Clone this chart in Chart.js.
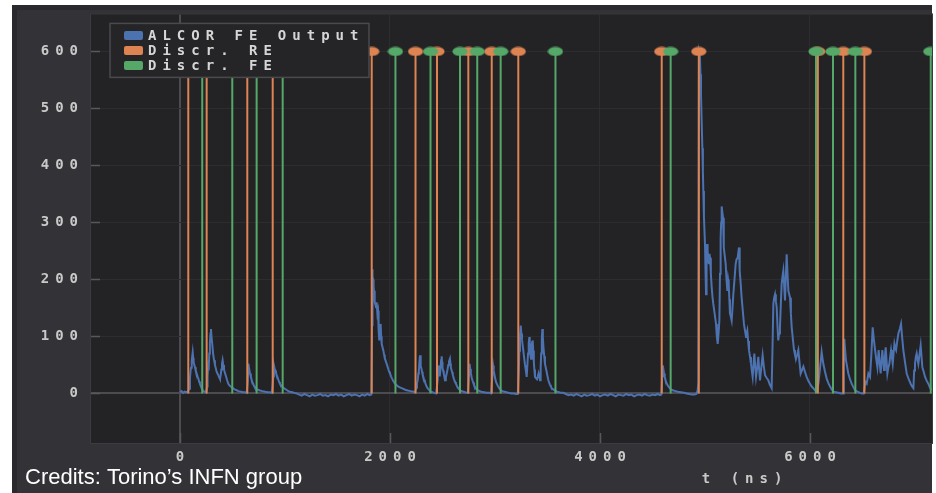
<!DOCTYPE html>
<html>
<head>
<meta charset="utf-8">
<script src="https://cdn.jsdelivr.net/npm/chart.js@4/dist/chart.umd.min.js"></script>
<style>
  html, body { margin: 0; padding: 0; background: #ffffff; }
  #wrap { position: relative; width: 936px; height: 493px; }
  canvas { display: block; }
</style>
</head>
<body>
<div id="wrap"><canvas id="c" width="936" height="493"></canvas></div>
<script>
// ---- series labels and axis text ----
const seriesNames = ['ALCOR FE Output', 'Discr. RE', 'Discr. FE'];
const xTitle = 't (ns)';
const creditText = 'Credits: Torino\u2019s INFN group';

// ---- tick values ----
const xTicks = [0, 2000, 4000, 6000];
const yTicks = [0, 100, 200, 300, 400, 500, 600];

// discriminator level at which the edge markers are drawn
const STEM_LEVEL = 600;

// rising / falling edge times (ns)
const reTimes = [79, 254, 641, 883, 1826, 2243, 2448, 2746, 2969, 3222, 4588, 4941, 6075, 6317, 6518];
const feTimes = [212, 498, 730, 978, 2052, 2386, 2667, 2831, 3054, 3576, 4673, 6057, 6219, 6432, 7150];

// front-end output waveform: time (ns) and amplitude
const waveT = [
  0, 15, 30, 45, 60, 75,
  88, 95, 101, 105, 112, 121, 126, 130, 136, 143, 150, 159, 167, 175, 182, 190, 198, 206, 214, 222, 235, 248,
  258, 263, 268, 273, 279, 285, 290, 295, 300, 308, 317, 325, 333, 341, 349, 357, 365, 373, 381, 388, 394, 400, 406, 412, 419, 428, 438, 449, 460, 471, 483, 495, 508, 520, 535, 556, 580, 603, 620, 635,
  645, 651, 658, 667, 675, 683, 690, 698, 706, 714, 725, 736, 750, 762, 785, 810, 835, 857, 875,
  889, 895, 901, 908, 914, 921, 929, 937, 945, 952, 968, 984, 1000, 1016, 1032, 1048, 1070, 1090, 1111,
  1135, 1160, 1185, 1210, 1235, 1260, 1285, 1310, 1335, 1360, 1385, 1410, 1435, 1460, 1485, 1510, 1535, 1560, 1585, 1610, 1635, 1660, 1685, 1710, 1735, 1760, 1785, 1805, 1822,
  1829, 1832, 1836, 1840, 1844, 1848, 1852, 1857, 1862, 1867, 1873, 1880, 1886, 1892, 1898, 1905, 1911, 1916, 1921, 1930, 1937, 1944, 1950, 1959, 1968, 1977, 1985, 1993, 2000, 2010, 2020, 2034, 2048, 2064, 2080, 2100, 2127, 2150, 2170, 2195, 2222, 2238,
  2250, 2257, 2264, 2270, 2275, 2280, 2286, 2290, 2295, 2300, 2305, 2311, 2317, 2325, 2333, 2341, 2349, 2358, 2368, 2378, 2387, 2405, 2420, 2440,
  2455, 2460, 2464, 2468, 2472, 2476, 2482, 2487, 2492, 2496, 2500, 2506, 2512, 2518, 2524, 2532, 2540, 2548, 2555, 2562, 2571, 2576, 2580, 2586, 2592, 2598, 2603, 2611, 2620, 2628, 2635, 2643, 2650, 2660, 2667, 2685, 2700, 2715, 2730, 2742,
  2752, 2758, 2764, 2770, 2778, 2785, 2793, 2800, 2808, 2815, 2828, 2840, 2855, 2870, 2895, 2920, 2945, 2963,
  2975, 2982, 2988, 2995, 3002, 3010, 3020, 3030, 3042, 3054, 3070, 3090, 3110, 3130, 3155, 3180, 3200, 3217,
  3227, 3232, 3238, 3245, 3251, 3257, 3263, 3270, 3278, 3286, 3294, 3302, 3308, 3315, 3321, 3327, 3331, 3335, 3339, 3343, 3347, 3351, 3355, 3359, 3364, 3370, 3375, 3381, 3390, 3400, 3408, 3415, 3422, 3429, 3435, 3440, 3446, 3451, 3456, 3462, 3469, 3476, 3484, 3492, 3500, 3508, 3516, 3524, 3532, 3540, 3555, 3571, 3590, 3610, 3630, 3651,
  3675, 3700, 3725, 3750, 3775, 3800, 3825, 3850, 3875, 3900, 3925, 3950, 3975, 4000, 4025, 4050, 4075, 4100, 4125, 4150, 4175, 4200, 4225, 4250, 4275, 4300, 4325, 4350, 4375, 4400, 4425, 4450, 4475, 4500, 4525, 4550, 4570, 4584,
  4592, 4598, 4604, 4610, 4617, 4625, 4635, 4645, 4657, 4670, 4685, 4700, 4720, 4740, 4770, 4800, 4825, 4850, 4875, 4900, 4918, 4930, 4937,
  4943, 4952, 4957, 4962, 4968, 4975, 4980, 4984, 4990, 5000, 5005, 5010, 5015, 5020, 5025, 5031, 5038, 5043, 5048, 5056, 5064, 5071, 5079, 5092, 5105, 5113, 5121, 5129, 5137, 5143, 5149, 5154, 5159, 5165, 5172, 5177, 5181, 5189, 5197, 5205, 5213, 5220, 5226, 5232, 5238, 5246, 5254, 5262, 5270, 5281, 5292, 5300, 5311, 5318, 5324, 5328, 5333, 5341, 5349, 5360, 5371, 5381, 5391, 5397, 5403, 5411, 5419, 5429, 5438, 5446, 5454, 5462, 5470, 5478, 5486, 5497, 5508, 5516, 5524, 5536, 5549, 5560, 5572, 5588, 5603, 5618, 5635, 5643, 5651, 5659, 5667, 5675, 5683, 5690, 5698, 5706, 5714, 5722, 5730, 5738, 5746, 5754, 5762, 5770, 5778, 5786, 5794, 5802, 5810, 5818, 5826, 5837, 5848, 5857, 5867, 5878, 5889, 5900, 5911, 5924, 5937, 5952, 5968, 5984, 6000, 6016, 6032, 6045, 6057, 6068, 6080, 6096, 6111, 6119, 6127, 6143, 6159, 6175, 6191, 6207, 6222, 6246, 6270, 6294, 6316,
  6322, 6327, 6335, 6343, 6354, 6365, 6381, 6397, 6413, 6429, 6452, 6476, 6495, 6512,
  6527, 6540, 6556, 6572, 6585, 6597, 6608, 6620, 6631, 6642, 6654, 6663, 6673, 6689, 6697, 6705, 6713, 6721, 6729, 6737, 6746, 6756, 6764, 6772, 6780, 6788, 6796, 6804, 6812, 6820, 6831, 6842, 6855, 6867, 6878, 6889, 6905, 6921, 6940, 6959, 6972, 6985, 6992, 7000, 7008, 7016, 7024, 7032, 7043, 7054, 7062, 7070, 7083, 7096, 7112, 7127, 7143, 7159
];
const waveV = [
  2, 4, 1, 3, 2, 3,
  8, 27, 40, 45, 58, 72, 62, 55, 50, 46, 40, 35, 30, 26, 21, 17, 13, 10, 7, 4, 3, 2,
  12, 30, 45, 40, 70, 88, 105, 113, 100, 85, 67, 58, 50, 44, 38, 35, 32, 28, 25, 32, 42, 52, 58, 50, 42, 36, 30, 23, 17, 14, 12, 10, 9, 7, 6, 4, 3, 2, 2, 1,
  20, 52, 44, 35, 29, 24, 20, 16, 13, 10, 8, 7, 6, 5, 4, 3, 2, 2, 1,
  30, 49, 44, 40, 36, 32, 28, 24, 20, 17, 13, 10, 8, 6, 4, 3, 2, 1, 0,
  -2, -4, -1, -3, -5, -2, -4, -3, -1, -4, -3, -5, -2, -3, -1, -4, -2, -5, -3, -1, -4, -2, -3, -5, -2, -4, -1, -3, -2,
  120, 218, 205, 200, 188, 180, 170, 160, 155, 151, 160, 140, 145, 110, 93, 115, 122, 100, 87, 80, 75, 68, 62, 57, 52, 47, 42, 38, 35, 30, 26, 21, 17, 14, 12, 10, 8, 6, 5, 4, 3, 2,
  10, 18, 23, 35, 40, 55, 67, 58, 48, 43, 38, 33, 29, 24, 20, 16, 12, 9, 7, 5, 3, 2, 1, 0,
  25, 49, 43, 38, 34, 30, 45, 58, 65, 55, 45, 40, 35, 29, 23, 28, 35, 42, 50, 56, 61, 52, 45, 41, 37, 33, 29, 24, 20, 17, 14, 11, 9, 7, 5, 4, 3, 2, 1, 1,
  30, 52, 43, 35, 28, 23, 19, 15, 12, 9, 7, 5, 4, 3, 2, 1, 1, 0,
  30, 49, 41, 33, 26, 20, 16, 12, 9, 6, 4, 3, 2, 1, 0, 0, -1, -1,
  40, 75, 100, 119, 105, 95, 85, 75, 62, 50, 40, 29, 48, 70, 88, 99, 85, 70, 65, 61, 75, 85, 90, 93, 75, 55, 42, 29, 27, 25, 30, 35, 29, 23, 45, 70, 95, 113, 98, 80, 65, 52, 45, 38, 30, 23, 19, 15, 12, 9, 7, 5, 3, 2, 1, 1,
  -1, -3, -2, -4, -1, -3, -5, -2, -4, -3, -1, -4, -2, -5, -3, -2, -4, -1, -3, -5, -2, -3, -4, -1, -3, -2, -5, -3, -2, -4, -1, -3, -4, -2, -3, -1, -3, -2,
  30, 49, 42, 35, 29, 23, 18, 14, 11, 8, 6, 5, 4, 3, 2, 1, 0, -1, -2, -2, -1, 5, 20,
  598, 590, 560, 523, 480, 430, 390, 355, 310, 262, 215, 174, 225, 262, 250, 235, 227, 245, 238, 210, 186, 170, 157, 140, 122, 100, 87, 105, 128, 210, 273, 300, 328, 318, 308, 280, 256, 240, 227, 200, 180, 200, 192, 165, 140, 135, 128, 150, 174, 200, 227, 235, 238, 248, 256, 235, 215, 190, 168, 145, 122, 110, 99, 105, 110, 92, 76, 64, 52, 40, 29, 50, 70, 48, 29, 45, 64, 42, 23, 45, 67, 48, 32, 27, 23, 15, 9, 80, 157, 168, 174, 162, 151, 120, 93, 105, 116, 155, 192, 205, 215, 190, 163, 205, 244, 210, 180, 174, 168, 140, 116, 95, 76, 68, 61, 68, 76, 55, 35, 41, 47, 38, 29, 22, 17, 12, 9, 6, 3, 8, 17, 45, 73, 62, 52, 38, 26, 18, 12, 7, 3, 2, 1, 0, 0,
  50, 96, 75, 58, 46, 35, 25, 17, 11, 6, 3, 1, 0, 0,
  20, 17, 35, 29, 70, 116, 95, 76, 60, 46, 76, 55, 35, 76, 58, 41, 62, 81, 58, 35, 45, 52, 65, 76, 64, 52, 70, 87, 80, 76, 92, 105, 113, 122, 98, 76, 55, 35, 25, 17, 12, 9, 40, 52, 64, 70, 60, 52, 68, 84, 65, 46, 38, 29, 22, 17, 10, 6
];

// seaborn-style palette
const COLORS = ['#4c72b0', '#dd8452', '#55a868'];
const TEXT_SPACING = '6px';
const MONO = '"DejaVu Sans Mono", monospace';
const TEXT_SIZE = 14;

// vertical stems from 0 up to the discriminator level, separated by gaps
function stemPoints(times) {
  const pts = [];
  times.forEach(t => {
    pts.push({ x: t, y: 0 }, { x: t, y: STEM_LEVEL }, { x: t, y: null });
  });
  return pts;
}

// flattened round marker sitting on top of each stem
function ellipseMarker(color) {
  const c = document.createElement('canvas');
  c.width = 16; c.height = 10;
  const g = c.getContext('2d');
  g.fillStyle = color;
  g.beginPath();
  g.ellipse(8, 5, 7.6, 4.6, 0, 0, Math.PI * 2);
  g.fill();
  return c;
}

const stemDataset = (label, times, color, order) => ({
  label,
  data: stemPoints(times),
  borderColor: color,
  backgroundColor: color,
  borderWidth: 2,
  spanGaps: false,
  order,
  pointStyle: ellipseMarker(color),
  pointRadius: c => (c.raw && c.raw.y === STEM_LEVEL) ? 6 : 0,
  pointHoverRadius: 0
});

// wide monospaced look for all chart text
const spacingPlugin = {
  id: 'spacing',
  beforeUpdate(chart) { chart.ctx.letterSpacing = TEXT_SPACING; },
  beforeLayout(chart) { chart.ctx.letterSpacing = TEXT_SPACING; },
  beforeDraw(chart) { chart.ctx.letterSpacing = TEXT_SPACING; }
};

// page frame, panel and plot background
const framePlugin = {
  id: 'frame',
  beforeDraw(chart) {
    const { ctx, chartArea: a } = chart;
    ctx.save();
    ctx.fillStyle = '#ffffff';
    ctx.fillRect(0, 0, chart.width, chart.height);
    ctx.fillStyle = '#2a2a2e';
    ctx.fillRect(12, 5, a.right - 12, chart.height - 5);
    ctx.fillStyle = '#333337';
    ctx.fillRect(17, 10, a.right - 17, chart.height - 10);
    ctx.fillStyle = '#232326';
    ctx.fillRect(a.left, a.top - 1, a.right - a.left, a.bottom - a.top + 1);
    ctx.restore();
  },
  beforeDatasetsDraw(chart) {
    // short tick marks pointing into the plot
    const { ctx, chartArea: a, scales } = chart;
    ctx.save();
    ctx.strokeStyle = '#58585c';
    ctx.lineWidth = 1.5;
    ctx.beginPath();
    scales.y.ticks.forEach(t => {
      const y = Math.round(scales.y.getPixelForValue(t.value)) + 0.5;
      ctx.moveTo(a.left, y); ctx.lineTo(a.left + 10, y);
    });
    scales.x.ticks.forEach(t => {
      const x = Math.round(scales.x.getPixelForValue(t.value)) + 0.5;
      ctx.moveTo(x, a.bottom); ctx.lineTo(x, a.bottom - 10);
    });
    ctx.stroke();
    ctx.strokeStyle = '#3c3c40';
    ctx.lineWidth = 1;
    ctx.strokeRect(a.left + 0.5, a.top - 0.5, a.right - a.left, a.bottom - a.top + 1);
    ctx.restore();
  }
};

// boxed legend inside the plot, x-axis title and credit line
const overlayPlugin = {
  id: 'overlay',
  afterDraw(chart) {
    const { ctx, chartArea: a } = chart;
    ctx.save();
    ctx.letterSpacing = TEXT_SPACING;
    const bx = a.left + 20, by = a.top + 9, bw = 259, bh = 54;
    ctx.fillStyle = '#252528';
    ctx.fillRect(bx, by, bw, bh);
    ctx.strokeStyle = '#4a4a4e';
    ctx.lineWidth = 1.5;
    ctx.strokeRect(bx, by, bw, bh);
    ctx.font = 'bold ' + TEXT_SIZE + 'px ' + MONO;
    ctx.textBaseline = 'middle';
    ctx.textAlign = 'left';
    chart.data.datasets.forEach((ds, i) => {
      const cy = by + 12 + i * 15;
      ctx.fillStyle = ds.borderColor;
      ctx.beginPath();
      ctx.roundRect(bx + 14, cy - 4.5, 19, 9, 2);
      ctx.fill();
      ctx.fillStyle = '#d6d6d6';
      ctx.fillText(ds.label, bx + 38, cy + 1);
    });

    ctx.fillStyle = '#c9c9c9';
    ctx.textAlign = 'center';
    ctx.fillText(xTitle, a.left + (a.right - a.left) * 0.778, 479);

    ctx.letterSpacing = '0px';
    ctx.font = '22px "Liberation Sans", Arial, sans-serif';
    ctx.textAlign = 'left';
    ctx.textBaseline = 'alphabetic';
    ctx.fillStyle = '#ffffff';
    ctx.fillText(creditText, 25, 484);
    ctx.restore();
  }
};

Chart.defaults.font.family = MONO;
Chart.defaults.font.size = TEXT_SIZE;
Chart.defaults.font.weight = 'bold';
Chart.defaults.color = '#c9c9c9';

const gridColor = c => (c.tick && c.tick.value === 0) ? '#4c4c50' : '#2d2d31';
const gridWidth = c => (c.tick && c.tick.value === 0) ? 2 : 1;
const plainLabel = v => String(v);

new Chart(document.getElementById('c'), {
  type: 'line',
  data: {
    datasets: [
      {
        label: seriesNames[0],
        data: waveT.map((t, i) => ({ x: t, y: waveV[i] })),
        borderColor: COLORS[0],
        backgroundColor: COLORS[0],
        borderWidth: 2,
        pointRadius: 0,
        order: 3
      },
      stemDataset(seriesNames[1], reTimes, COLORS[1], 2),
      stemDataset(seriesNames[2], feTimes, COLORS[2], 1)
    ]
  },
  options: {
    responsive: false,
    animation: false,
    events: [],
    layout: { padding: { left: 12, top: 12, right: 4, bottom: 0 } },
    plugins: {
      legend: { display: false },
      tooltip: { enabled: false }
    },
    scales: {
      x: {
        type: 'linear',
        min: -857,
        max: 7162,
        afterBuildTicks: s => { s.ticks = xTicks.map(v => ({ value: v })); },
        afterFit: s => { s.height = 50; },
        ticks: { padding: 6, labelOffset: 3, maxRotation: 0, includeBounds: false, callback: plainLabel },
        grid: { color: gridColor, lineWidth: gridWidth, drawTicks: false },
        border: { display: false }
      },
      y: {
        type: 'linear',
        min: -87,
        max: 665,
        afterBuildTicks: s => { s.ticks = yTicks.map(v => ({ value: v })); },
        afterFit: s => { s.width = 78; },
        ticks: { padding: 6, includeBounds: false, callback: plainLabel },
        grid: { color: gridColor, lineWidth: gridWidth, drawTicks: false },
        border: { display: false }
      }
    }
  },
  plugins: [spacingPlugin, framePlugin, overlayPlugin]
});
</script>
</body>
</html>
